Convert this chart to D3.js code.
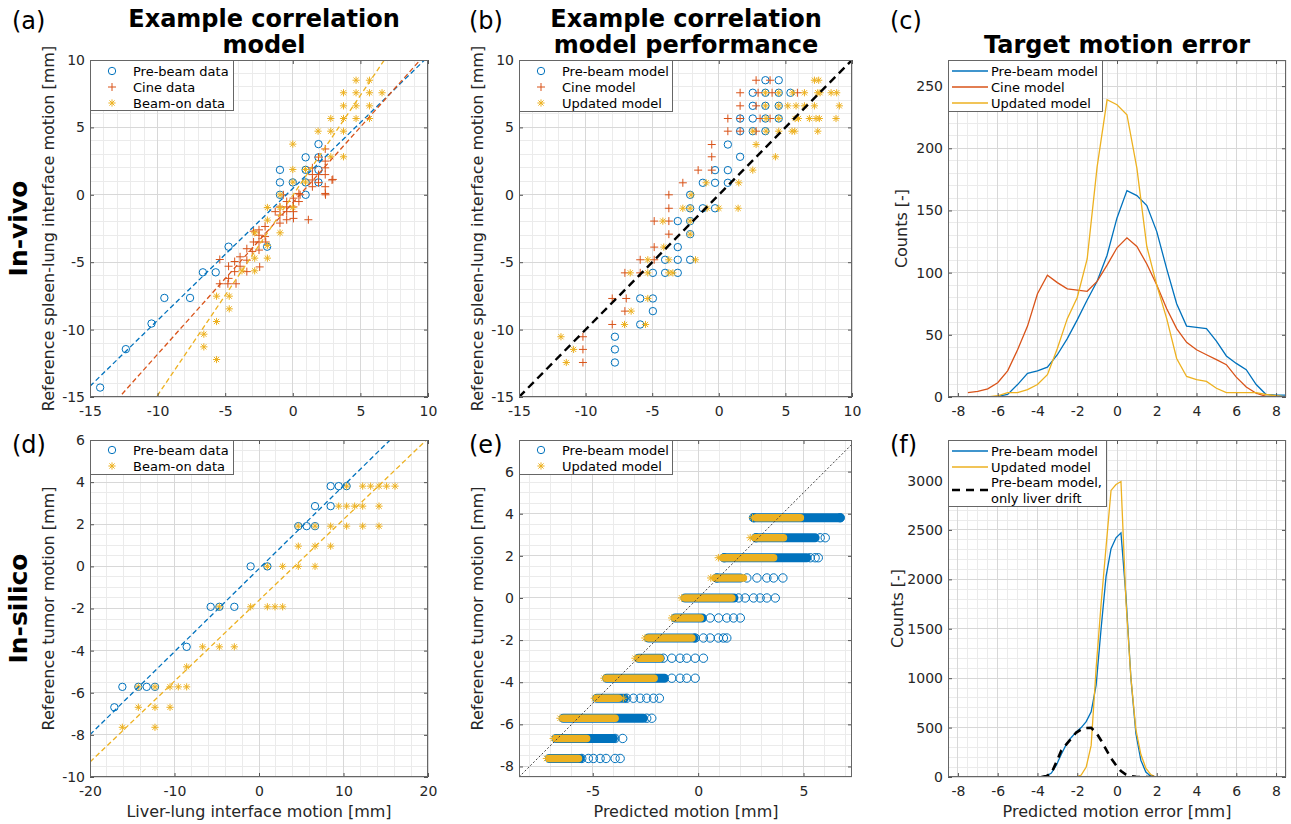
<!DOCTYPE html>
<html><head><meta charset="utf-8">
<script src="https://cdn.jsdelivr.net/npm/d3@7"></script>
<style>body{margin:0;background:#fff} text{font-family:"DejaVu Sans",sans-serif}</style>
</head><body><svg id="fig" width="1291" height="824"></svg>
<script>
// ---------------- DATA ----------------
// (a) Example correlation model (in-vivo) : [liver-lung x, spleen-lung y]
const aPre = [[-14.25,-14.3],[-12.35,-11.45],[-10.45,-9.55],[-9.5,-7.65],[-7.6,-7.65],[-6.65,-5.75],[-5.7,-5.75],[-4.75,-3.85],[-1.9,-3.85],[-0.95,0],[-0.95,0.92],[-0.95,1.85],[0,0.92],[0.95,2.78],[0.95,1.85],[0.95,0.92],[0.95,0],[1.9,3.76],[1.9,2.78],[1.9,1.85],[1.9,0.92]];
const aCine = [[2.4,3.4],[1.9,2.8],[2.4,2.5],[1.45,2.0],[2.4,2.0],[1.45,1.5],[1.9,1.5],[2.4,1.5],[2.9,1.1],[1.45,1.1],[1.9,0.9],[2.4,0.6],[1.45,0.6],[2.4,0.1],[0.45,0.1],[0.05,-0.25],[0.45,-0.5],[-0.45,-0.5],[-0.95,-0.9],[-0.45,-0.9],[0.05,-0.9],[-1.3,-1.25],[-0.95,-1.5],[-0.45,-1.25],[0.05,-1.25],[-0.45,-1.85],[0.05,-1.75],[1.15,-1.85],[-0.95,-2.1],[-2.05,-2.35],[-2.5,-2.6],[-2.9,-2.7],[-2.5,-3.0],[-2.05,-3.1],[-2.9,-3.5],[-2.5,-3.5],[-2.0,-3.5],[-3.4,-4.0],[-3.0,-4.2],[-2.5,-4.1],[-3.9,-4.6],[-3.4,-4.85],[-4.3,-4.95],[-2.45,-5.35],[-3.9,-5.3],[-4.75,-5.3],[-4.3,-5.7],[-3.4,-5.7],[-4.75,-6.2],[-5.4,-4.8],[-5.4,-6.6],[-4.8,-6.6],[-4.2,-6.6],[-0.7,0],[0.54,0],[2.42,0],[2.96,1.14]];
const aBeam = [[4.68,8.5],[5.67,8.5],[3.75,7.57],[4.68,7.57],[5.67,7.57],[6.6,7.57],[3.75,6.6],[4.68,6.6],[5.67,6.6],[2.81,5.66],[3.75,5.66],[4.68,5.66],[5.67,5.66],[1.87,4.72],[2.81,4.72],[3.75,4.72],[0,3.76],[2.81,2.82],[3.75,2.82],[0,1.88],[0.94,1.88],[0,0.94],[0.94,0.94],[-0.94,0],[-1.88,-0.94],[-0.94,-0.94],[0,-0.94],[-1.88,-1.88],[-0.94,-2.82],[-2.82,-2.82],[-1.88,-3.76],[-2.82,-4.7],[-1.88,-4.7],[-3.76,-5.64],[-2.82,-5.64],[-5.64,-7.52],[-4.7,-7.52],[-4.7,-8.46],[-5.64,-9.4],[-6.58,-10.34],[-6.58,-11.28],[-5.64,-12.22]];
const aFitSlope = [0.978, 1.124, 1.483];      // pre-beam, cine, beam-on
const aFitIntercept = [0.47, -0.59, -0.04];

// (b) Example correlation model performance : [predicted x, reference y]
const bPre = [[3.5,8.5],[4.5,8.5],[2.55,7.57],[3.5,7.57],[4.5,7.57],[5.38,7.57],[2.55,6.6],[3.5,6.6],[4.5,6.6],[1.6,5.66],[2.55,5.66],[3.5,5.66],[4.5,5.66],[1.6,4.72],[2.55,4.72],[3.5,4.72],[0.68,3.73],[1.6,2.82],[-0.28,1.83],[0.68,1.83],[-1.2,0.89],[-0.28,0.89],[0.68,0.89],[-2.15,0],[-2.15,-1.0],[-1.2,-1.0],[-0.28,-1.0],[-3.08,-1.95],[-2.15,-1.95],[-2.15,-2.92],[-3.08,-3.88],[-4.03,-4.82],[-3.08,-4.82],[-2.15,-4.82],[-4.95,-5.79],[-4.03,-5.79],[-3.08,-5.79],[-5.9,-7.69],[-4.95,-7.69],[-4.95,-8.63],[-5.9,-9.62],[-7.8,-10.53],[-7.8,-11.47],[-7.8,-12.44]];
const bCine = [[2.8,8.5],[3.85,8.5],[1.6,7.57],[2.95,7.57],[4.0,7.57],[5.9,7.57],[1.6,6.6],[2.8,6.6],[0.68,5.66],[1.6,5.66],[3.1,5.66],[3.85,5.66],[0.68,4.72],[1.6,4.72],[2.8,4.72],[-0.53,3.73],[-0.53,2.82],[-1.55,1.83],[-0.53,1.83],[-2.7,0.89],[-3.75,0],[-3.75,-1.0],[-4.85,-1.95],[-3.75,-1.95],[-3.75,-2.92],[-4.85,-3.88],[-5.9,-4.82],[-4.85,-4.82],[-7.05,-5.79],[-5.9,-5.79],[-8.0,-7.69],[-6.95,-7.69],[-7.05,-8.63],[-8.0,-9.62],[-10.2,-10.53],[-10.2,-11.47],[-10.2,-12.44]];
const bUpd = [[7.18,8.5],[7.5,8.5],[3.5,7.57],[4.5,7.57],[5.55,7.57],[6.43,7.57],[7.43,7.57],[7.6,7.57],[8.43,7.57],[8.85,7.57],[3.5,6.6],[4.5,6.6],[5.18,6.6],[5.8,6.6],[6.43,6.6],[7.18,6.6],[9.05,6.6],[3.55,5.66],[4.5,5.66],[5.73,5.66],[5.98,5.66],[6.8,5.66],[7.3,5.66],[7.55,5.66],[8.8,5.66],[2.55,4.72],[3.55,4.72],[4.5,4.72],[5.5,4.72],[5.7,4.72],[7.43,4.72],[2.8,3.73],[4.25,2.82],[2.55,1.83],[-0.95,0.89],[1.5,0.89],[-2.08,0],[-2.7,-1.0],[-2.15,-1.0],[-0.88,-1.0],[0,-1.0],[1.45,-1.0],[-4.2,-1.95],[-2.15,-1.95],[-2.15,-2.92],[-4.13,-3.88],[-5.33,-4.82],[-3.75,-4.82],[-1.75,-4.82],[-6.65,-5.79],[-5.33,-5.79],[-3.75,-5.79],[-3.45,-5.79],[-5.33,-7.69],[-6.58,-8.63],[-7.08,-9.62],[-5.5,-9.62],[-11.85,-10.53],[-10.9,-11.47],[-11.45,-12.44]];
const bIdentity = [-15, 10];

// (c) Target motion error histograms (in-vivo)
const cX = [-7.5,-7,-6.5,-6,-5.5,-5,-4.5,-4,-3.5,-3,-2.5,-2,-1.5,-1,-0.5,0,0.5,1,1.5,2,2.5,3,3.5,4,4.5,5,5.5,6,6.5,7,7.5,8,8.5];
const cPre = [0,0,0,0.5,2,10,19,21,24,34,47,62,78,93,114,144,166,162,154,133,103,75,57,56,55,45,33,27,22,10,2,1.5,1.5];
const cCine = [3.5,4.5,6.5,11.5,21,38,57,83,98,92,87,86,85,93,106,120,128,121,107,90,71,55,44,38,34,30,26,16,8,3,0.5,0,0];
const cUpd = [0,0,0,1,3.5,3.5,6,10,18,39,63,80,111,185,239,235,227,184,121,90,63,31,16.5,14,12.5,7,3.5,3.5,3.5,3.5,2,1,0];

// (d) Example correlation model (in-silico)
const dPre = [[-17.12,-6.69],[-16.17,-5.72],[-14.28,-5.72],[-13.29,-5.72],[-12.31,-5.72],[-8.56,-3.82],[-5.72,-1.92],[-4.69,-1.92],[-2.92,-1.92],[-0.99,0],[0.99,0],[4.65,1.91],[5.64,1.91],[6.63,1.91],[6.63,2.86],[8.48,2.86],[8.48,3.81],[9.43,3.81],[10.37,3.81]];
const dBeam = [[-16.17,-7.64],[-12.31,-7.64],[-14.28,-6.69],[-12.31,-6.69],[-10.53,-6.69],[-14.28,-5.72],[-12.31,-5.72],[-10.53,-5.72],[-9.55,-5.72],[-8.56,-5.72],[-8.56,-4.77],[-6.67,-3.82],[-4.69,-3.82],[-2.92,-3.82],[-4.69,-1.92],[-0.99,-1.92],[0.99,-1.92],[1.89,-1.92],[2.8,-1.92],[0.99,0],[2.8,0],[4.65,0],[6.63,0],[4.65,0.96],[6.63,0.96],[8.48,0.96],[4.65,1.91],[6.63,1.91],[8.48,1.91],[10.37,1.91],[12.27,1.91],[14.2,1.91],[9.43,2.86],[10.37,2.86],[11.32,2.86],[12.27,2.86],[14.2,2.86],[10.37,3.81],[12.27,3.81],[13.21,3.81],[14.2,3.81],[15.1,3.81],[16.1,3.81]];
const dFitSlope = [0.394, 0.384];
const dFitIntercept = [-0.11, -1.61];

// (e) Model performance (in-silico): dense point runs per reference level
const eLevels = [3.81,2.86,1.91,0.95,0,-0.95,-1.9,-2.86,-3.81,-4.76,-5.71,-6.67,-7.62];
const ePreRunStart = [2.65,2.74,1.23,0.88,-0.62,-1.09,-2.36,-2.83,-4.34,-4.81,-6.4,-6.74,-7.06];
const ePreRunEnd = [6.74,5.55,5.16,2.0,1.7,0.2,-0.2,-1.8,-1.6,-3.5,-2.6,-4.02,-5.6];
const ePreDots = [[2.63,6.74],[2.74,5.79,6.03],[1.23,5.32,5.55,5.7],[0.88,2.31,2.79,3.26,3.58,4.02],[1.92,2.23,2.63,2.94,3.26,3.66],[0.57,0.97,1.36,1.68,2.0],[-0.14,0.25,0.57,0.96,1.2,1.36],[-1.65,-1.25,-0.86,-0.54,-0.14,0.25],[-1.25,-0.86,-0.54,-0.14],[-3.39,-3.07,-2.75,-2.44,-2.12,-1.84],[-2.44,-2.2],[-3.94,-3.58],[-5.52,-5.21,-4.97,-4.65,-4.37,-3.94,-3.7]];
const eUpdRunStart = [2.75,2.7,1.17,0.8,-0.62,-1.09,-2.36,-2.83,-4.34,-4.81,-6.4,-6.74,-7.06];
const eUpdRunEnd = [4.85,4.05,3.58,2.15,1.6,0.1,-0.3,-1.8,-2.09,-3.78,-3.94,-5.29,-5.68];
const eUpdDots = [[2.58],[2.47],[0.96],[0.6],[-0.78],[-1.25],[-2.52],[-2.99],[-4.46],[-4.92,-3.55],[-6.55],[-6.87],[-7.19]];
const eIdentity = [-8.5, 7.5];

// (f) Target motion error histograms (in-silico)
const fX = [-3.8,-3.55,-3.3,-3.05,-2.8,-2.55,-2.3,-2.05,-1.8,-1.55,-1.3,-1.05,-0.8,-0.55,-0.3,-0.05,0.2,0.45,0.7,0.95,1.2,1.45,1.7,1.95,2.2];
const fPre = [0,10,40,120,230,330,400,455,500,560,660,930,1500,2030,2310,2420,2470,1830,1000,440,170,50,8,0,0];
const fUpd = [0,0,0,0,0,0,0,0,20,100,320,1100,1750,2330,2900,2960,2990,1780,1000,480,230,90,25,0,0];
const fDrift = [0,10,40,150,270,330,390,450,480,495,497,450,370,280,190,120,60,25,8,2,0,0,0,0,0];

// tick labels
const abTicks = [-15,-10,-5,0,5,10];
const cfXTicks = [-8,-6,-4,-2,0,2,4,6,8];
const cYTicks = [0,50,100,150,200,250];
const dXTicks = [-20,-10,0,10,20];
const dYTicks = [-10,-8,-6,-4,-2,0,2,4,6];
const eXTicks = [-5,0,5];
const eYTicks = [-8,-6,-4,-2,0,2,4,6];
const fYTicks = [0,500,1000,1500,2000,2500,3000];

// ---------------- DRAWING ----------------
const C = {blue:'#0072BD', red:'#D95319', yellow:'#EDB120'};
const svg = d3.select('#fig');
svg.append('rect').attr('width',1291).attr('height',824).attr('fill','#fff');
const defs = svg.append('defs');

const P = {
  a:{l:90,t:60,r:428,b:397}, b:{l:519,t:60,r:852,b:397}, c:{l:948,t:60,r:1286,b:397},
  d:{l:90,t:440,r:428,b:777}, e:{l:519,t:440,r:852,b:777}, f:{l:948,t:440,r:1286,b:777}
};

function frame(key, xDom, yDom, xTicks, yTicks, xMinor, yMinor) {
  const p = P[key];
  const x = d3.scaleLinear().domain(xDom).range([p.l, p.r]);
  const y = d3.scaleLinear().domain(yDom).range([p.b, p.t]);
  const g = svg.append('g');
  const rng = (dom, s) => d3.range(Math.ceil(dom[0]/s - 1e-9)*s, dom[1]+1e-9, s);
  const grid = g.append('g').attr('shape-rendering','crispEdges');
  grid.selectAll('.xm').data(rng(xDom,xMinor)).join('line').attr('class','xm')
    .attr('x1',d=>x(d)).attr('x2',d=>x(d)).attr('y1',p.t).attr('y2',p.b).attr('stroke','#ebebeb');
  grid.selectAll('.ym').data(rng(yDom,yMinor)).join('line').attr('class','ym')
    .attr('y1',d=>y(d)).attr('y2',d=>y(d)).attr('x1',p.l).attr('x2',p.r).attr('stroke','#ebebeb');
  grid.selectAll('.xM').data(xTicks).join('line').attr('class','xM')
    .attr('x1',d=>x(d)).attr('x2',d=>x(d)).attr('y1',p.t).attr('y2',p.b).attr('stroke','#d8d8d8');
  grid.selectAll('.yM').data(yTicks).join('line').attr('class','yM')
    .attr('y1',d=>y(d)).attr('y2',d=>y(d)).attr('x1',p.l).attr('x2',p.r).attr('stroke','#d8d8d8');
  defs.append('clipPath').attr('id','clip-'+key).append('rect')
    .attr('x',p.l).attr('y',p.t).attr('width',p.r-p.l).attr('height',p.b-p.t);
  const data = g.append('g').attr('clip-path',`url(#clip-${key})`);
  const top = svg.append('g');
  return {x, y, g, data, top, p, xTicks, yTicks};
}

function finish(F) {
  const {x,y,top,p,xTicks,yTicks} = F;
  const style = sel => {
    sel.select('.domain').remove();
    sel.selectAll('line').attr('stroke','#555');
    sel.selectAll('text').attr('font-size',14).attr('fill','#262626').attr('font-family','DejaVu Sans');
    sel.attr('font-family', null).attr('font-size', null);
  };
  top.append('g').attr('transform',`translate(0,${p.b})`)
    .call(d3.axisBottom(x).tickValues(xTicks).tickSize(-4).tickSizeOuter(0).tickPadding(9).tickFormat(d=>String(d))).call(style);
  top.append('g').attr('transform',`translate(0,${p.t})`)
    .call(d3.axisTop(x).tickValues(xTicks).tickSize(-4).tickSizeOuter(0).tickFormat('')).call(style);
  top.append('g').attr('transform',`translate(${p.l},0)`)
    .call(d3.axisLeft(y).tickValues(yTicks).tickSize(-4).tickSizeOuter(0).tickPadding(5).tickFormat(d=>String(d))).call(style);
  top.append('g').attr('transform',`translate(${p.r},0)`)
    .call(d3.axisRight(y).tickValues(yTicks).tickSize(-4).tickSizeOuter(0).tickFormat('')).call(style);
  top.append('rect').attr('x',p.l+0.5).attr('y',p.t+0.5).attr('width',p.r-p.l-1).attr('height',p.b-p.t-1)
    .attr('fill','none').attr('stroke','#666').attr('stroke-width',1);
}

const starPath = r => { const a = r*0.72; return `M${-r},0H${r}M0,${-r}V${r}M${-a},${-a}L${a},${a}M${-a},${a}L${a},${-a}`; };
const plusPath = r => `M${-r},0H${r}M0,${-r}V${r}`;

function circles(sel, F, pts, color, r=3.7) {
  sel.append('g').selectAll('circle').data(pts).join('circle')
    .attr('cx',d=>F.x(d[0])).attr('cy',d=>F.y(d[1])).attr('r',r)
    .attr('fill','none').attr('stroke',color).attr('stroke-width',1);
}
function pluses(sel, F, pts, color, r=4) {
  sel.append('g').selectAll('path').data(pts).join('path')
    .attr('transform',d=>`translate(${F.x(d[0])},${F.y(d[1])})`).attr('d',plusPath(r))
    .attr('fill','none').attr('stroke',color).attr('stroke-width',1);
}
function stars(sel, F, pts, color, r=3.6) {
  sel.append('g').selectAll('path').data(pts).join('path')
    .attr('transform',d=>`translate(${F.x(d[0])},${F.y(d[1])})`).attr('d',starPath(r))
    .attr('fill','none').attr('stroke',color).attr('stroke-width',1);
}
function fitLine(sel, F, slope, icpt, color, dash, w) {
  const xd = F.x.domain();
  sel.append('line').attr('x1',F.x(xd[0])).attr('y1',F.y(slope*xd[0]+icpt))
    .attr('x2',F.x(xd[1])).attr('y2',F.y(slope*xd[1]+icpt))
    .attr('stroke',color).attr('stroke-width',w).attr('stroke-dasharray',dash);
}

function legend(key, w, h, rows) {
  const p = P[key];
  const g = svg.append('g');
  g.append('rect').attr('x',p.l+0.5).attr('y',p.t+0.5).attr('width',w).attr('height',h)
    .attr('fill','#fff').attr('stroke','#666');
  rows.forEach(r => {
    const cy = p.t + r.dy;
    if (r.type==='circle') g.append('circle').attr('cx',p.l+22).attr('cy',cy).attr('r',3.7).attr('fill','none').attr('stroke',r.color);
    if (r.type==='plus') g.append('path').attr('transform',`translate(${p.l+22},${cy})`).attr('d',plusPath(4)).attr('stroke',r.color).attr('fill','none');
    if (r.type==='star') g.append('path').attr('transform',`translate(${p.l+22},${cy})`).attr('d',starPath(3.6)).attr('stroke',r.color).attr('fill','none');
    if (r.type==='line') g.append('line').attr('x1',p.l+4).attr('x2',p.l+40).attr('y1',cy).attr('y2',cy)
      .attr('stroke',r.color).attr('stroke-width',r.w||1.3).attr('stroke-dasharray',r.dash||null);
    const tx = p.l+43;
    const t = g.append('text').attr('x',tx).attr('y',cy).attr('dy','0.36em').attr('font-size',13).attr('fill','#000');
    if (Array.isArray(r.label)) {
      t.attr('y', cy - 7.5);
      r.label.forEach((s,i)=> t.append('tspan').attr('x',tx).attr('dy', i===0?'0.36em':'1.2em').text(s));
    } else t.text(r.label);
  });
}

// ----- (a)
const A = frame('a', [-15,10], [-15,10], abTicks, abTicks, 1, 1);
circles(A.data, A, aPre, C.blue);
pluses(A.data, A, aCine, C.red);
stars(A.data, A, aBeam, C.yellow);
[C.blue, C.red, C.yellow].forEach((c,i)=>fitLine(A.data, A, aFitSlope[i], aFitIntercept[i], c, '5,3', 1.3));
finish(A);
legend('a', 143, 50, [
  {type:'circle', color:C.blue, label:'Pre-beam data', dy:11},
  {type:'plus', color:C.red, label:'Cine data', dy:27},
  {type:'star', color:C.yellow, label:'Beam-on data', dy:43}]);

// ----- (b)
const B = frame('b', [-15,10], [-15,10], abTicks, abTicks, 1, 1);
circles(B.data, B, bPre, C.blue);
pluses(B.data, B, bCine, C.red);
stars(B.data, B, bUpd, C.yellow);
B.data.append('line').attr('x1',B.x(bIdentity[0])).attr('y1',B.y(bIdentity[0]))
  .attr('x2',B.x(bIdentity[1])).attr('y2',B.y(bIdentity[1]))
  .attr('stroke','#000').attr('stroke-width',2.4).attr('stroke-dasharray','8,5');
finish(B);
legend('b', 153, 51, [
  {type:'circle', color:C.blue, label:'Pre-beam model', dy:11},
  {type:'plus', color:C.red, label:'Cine model', dy:27},
  {type:'star', color:C.yellow, label:'Updated model', dy:43}]);

// ----- (c)
const Cc = frame('c', [-8.5,8.5], [0,271], cfXTicks, cYTicks, 0.5, 10);
const lineC = vals => d3.line().x((d,i)=>Cc.x(cX[i])).y(d=>Cc.y(d))(vals);
[[cPre,C.blue],[cCine,C.red],[cUpd,C.yellow]].forEach(([v,c])=>
  Cc.data.append('path').attr('d',lineC(v)).attr('fill','none').attr('stroke',c).attr('stroke-width',1.3));
finish(Cc);
legend('c', 154, 51, [
  {type:'line', color:C.blue, label:'Pre-beam model', dy:11},
  {type:'line', color:C.red, label:'Cine model', dy:27},
  {type:'line', color:C.yellow, label:'Updated model', dy:43}]);

// ----- (d)
const D = frame('d', [-20,20], [-10,6], dXTicks, dYTicks, 2, 0.5);
circles(D.data, D, dPre, C.blue);
stars(D.data, D, dBeam, C.yellow);
[C.blue, C.yellow].forEach((c,i)=>fitLine(D.data, D, dFitSlope[i], dFitIntercept[i], c, '5,3', 1.3));
finish(D);
legend('d', 143, 34, [
  {type:'circle', color:C.blue, label:'Pre-beam data', dy:10},
  {type:'star', color:C.yellow, label:'Beam-on data', dy:26}]);

// ----- (e)
const E = frame('e', [-8.5,7.3], [-8.5,7.5], eXTicks, eYTicks, 1, 0.5);
E.data.append('g').selectAll('line').data(eLevels).join('line')
  .attr('x1',(d,i)=>E.x(ePreRunStart[i])).attr('x2',(d,i)=>E.x(ePreRunEnd[i]))
  .attr('y1',d=>E.y(d)).attr('y2',d=>E.y(d))
  .attr('stroke',C.blue).attr('stroke-width',9).attr('stroke-linecap','round');
circles(E.data, E, eLevels.flatMap((lv,i)=>ePreDots[i].map(xv=>[xv,lv])), C.blue, 4.2);
E.data.append('g').selectAll('line').data(eLevels).join('line')
  .attr('x1',(d,i)=>E.x(eUpdRunStart[i])).attr('x2',(d,i)=>E.x(eUpdRunEnd[i]))
  .attr('y1',d=>E.y(d)).attr('y2',d=>E.y(d))
  .attr('stroke',C.yellow).attr('stroke-width',7.5).attr('stroke-linecap','round');
stars(E.data, E, eLevels.flatMap((lv,i)=>eUpdDots[i].map(xv=>[xv,lv])), C.yellow, 3.8);
E.data.append('line').attr('x1',E.x(eIdentity[0])).attr('y1',E.y(eIdentity[0]))
  .attr('x2',E.x(eIdentity[1])).attr('y2',E.y(eIdentity[1]))
  .attr('stroke','#444').attr('stroke-width',1).attr('stroke-dasharray','2,2');
finish(E);
legend('e', 153, 34, [
  {type:'circle', color:C.blue, label:'Pre-beam model', dy:10},
  {type:'star', color:C.yellow, label:'Updated model', dy:26}]);

// ----- (f)
const Ff = frame('f', [-8.5,8.5], [0,3410], cfXTicks, fYTicks, 0.5, 100);
const lineF = vals => d3.line().x((d,i)=>Ff.x(fX[i])).y(d=>Ff.y(d))(vals);
Ff.data.append('path').attr('d',lineF(fPre)).attr('fill','none').attr('stroke',C.blue).attr('stroke-width',1.3);
Ff.data.append('path').attr('d',lineF(fUpd)).attr('fill','none').attr('stroke',C.yellow).attr('stroke-width',1.3);
Ff.data.append('path').attr('d',lineF(fDrift)).attr('fill','none').attr('stroke','#000').attr('stroke-width',2.6).attr('stroke-dasharray','8,6');
finish(Ff);
legend('f', 158, 66, [
  {type:'line', color:C.blue, label:'Pre-beam model', dy:11},
  {type:'line', color:C.yellow, label:'Updated model', dy:27},
  {type:'line', color:'#000', w:2.6, dash:'8,6', label:['Pre-beam model,','only liver drift'], dy:50}]);

// ---------------- TEXT ----------------
const T = svg.append('g');
const addText = (x,y,s,opt={}) => T.append('text').attr('x',x).attr('y',y).text(s)
  .attr('text-anchor',opt.anchor||'middle').attr('font-size',opt.size||16)
  .attr('font-weight',opt.bold?'bold':'normal').attr('fill',opt.fill||'#262626')
  .attr('font-family',opt.family||'DejaVu Sans')
  .attr('transform',opt.rot?`rotate(-90,${x},${y})`:null);

// panel letters
[['(a)',12,29],['(b)',469,29],['(c)',890,29],['(d)',12,453],['(e)',469,453],['(f)',890,453]]
  .forEach(([s,x,y])=>addText(x,y,s,{anchor:'start',size:24,fill:'#000',family:'Liberation Sans, Arial, sans-serif'}));
// titles
addText(264,27,'Example correlation',{size:24,bold:true,fill:'#000'});
addText(264,53,'model',{size:24,bold:true,fill:'#000'});
addText(686,27,'Example correlation',{size:24,bold:true,fill:'#000'});
addText(686,53,'model performance',{size:24,bold:true,fill:'#000'});
addText(1117,53,'Target motion error',{size:24,bold:true,fill:'#000'});
// row labels
addText(27,228.5,'In-vivo',{size:25,bold:true,fill:'#000',rot:true});
addText(27,608.5,'In-silico',{size:25,bold:true,fill:'#000',rot:true});
// y labels
addText(54,228.5,'Reference spleen-lung interface motion [mm]',{rot:true});
addText(483,228.5,'Reference spleen-lung interface motion [mm]',{rot:true});
addText(907,228.5,'Counts [-]',{rot:true});
addText(54,608.5,'Reference tumor motion [mm]',{rot:true});
addText(483,608.5,'Reference tumor motion [mm]',{rot:true});
addText(903,608.5,'Counts [-]',{rot:true});
// x labels
addText(259,817,'Liver-lung interface motion [mm]');
addText(686,817,'Predicted motion [mm]');
addText(1117,817,'Predicted motion error [mm]');
</script></body></html>
